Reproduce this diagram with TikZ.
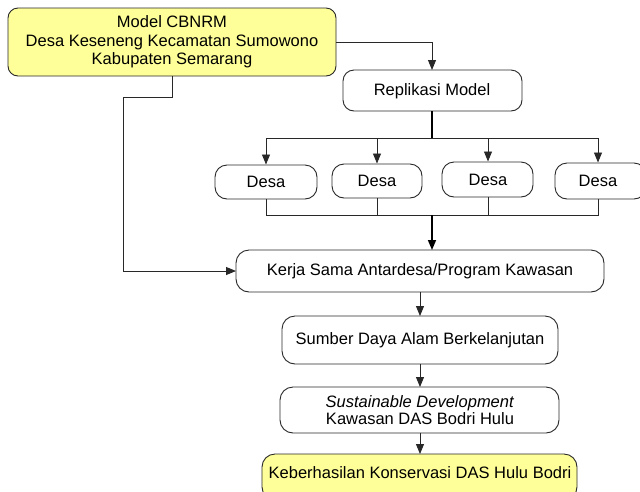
\documentclass[tikz,border=0pt]{standalone}
\usepackage{fontspec}
\setmainfont{Liberation Sans}
\usetikzlibrary{arrows.meta}
\definecolor{boxyellow}{RGB}{255,255,153}
\definecolor{linegray}{RGB}{40,40,40}
\begin{document}
\begin{tikzpicture}[x=1pt,y=-1pt,
  every node/.style={font=\fontsize{16.5}{18.5}\selectfont, text=black},
  rbox/.style={draw=linegray, line width=0.9pt, rounded corners=11pt, inner sep=0pt},
  conn/.style={draw=linegray, line width=0.9pt},
  thickconn/.style={draw=black, line width=1.6pt},
  arr/.style={-{Triangle[length=10pt,width=8pt]}}]
\useasboundingbox (0,0) rectangle (640,491);
\fill[white] (0,0) rectangle (640,491);

% boxes
\draw[rbox, fill=boxyellow, rounded corners=10pt] (8,8) rectangle (336,76);
\node[align=center, inner sep=0pt] (top) at (172,42) {Model CBNRM\\Desa Keseneng Kecamatan Sumowono\\Kabupaten Semarang};
\coordinate (topR) at (336,42);
\coordinate (topB) at (172,76);

\draw[rbox] (343,70) rectangle (522,111);
\node (rep) at (432,91) {Replikasi Model};
\coordinate (repT) at (432,70);
\coordinate (repB) at (432,111);

\draw[rbox, rounded corners=12pt] (215,165) rectangle (317,199);
\node (d1) at (266,182) {Desa};
\draw[rbox, rounded corners=12pt] (332,164) rectangle (422,198);
\node (d2) at (377,181) {Desa};
\draw[rbox, rounded corners=12pt] (442,162) rectangle (533,197);
\node (d3) at (488,180) {Desa};
\draw[rbox, rounded corners=12pt] (555,163) rectangle (646,199);
\node (d4) at (598,181) {Desa};

\draw[rbox, rounded corners=13pt] (236,250) rectangle (604,292);
\node (kerja) at (420,271) {Kerja Sama Antardesa/Program Kawasan};

\draw[rbox, rounded corners=13pt] (282,316) rectangle (558,364);
\node (sumber) at (420,340) {Sumber Daya Alam Berkelanjutan};

\draw[rbox, rounded corners=13pt] (280,387) rectangle (559,433);
\node[align=center, inner sep=0pt, font=\fontsize{16.5}{17.5}\selectfont] (sus) at (420,410) {\textit{Sustainable Development}\\Kawasan DAS Bodri Hulu};

\draw[rbox, fill=boxyellow, rounded corners=13pt] (262,454) rectangle (577,500);
\node (keb) at (420,473) {Keberhasilan Konservasi DAS Hulu Bodri};

% coordinates
\coordinate (split) at (432,138);
\coordinate (d1T) at (266,164.5);
\coordinate (d2T) at (377,163.5);
\coordinate (d3T) at (488,161.5);
\coordinate (d4T) at (598,162.5);
\coordinate (d1B) at (266,199);
\coordinate (d2B) at (377,198);
\coordinate (d3B) at (488,197);
\coordinate (d4B) at (598,199);
\coordinate (join) at (432,215);
\coordinate (kerjaT) at (432,250);
\coordinate (kerjaL) at (236,271);
\coordinate (kerjaB) at (420,292);
\coordinate (sumberT) at (420,316);
\coordinate (sumberB) at (420,364);
\coordinate (susT) at (420,387);
\coordinate (susB) at (420,433);
\coordinate (kebT) at (420,454);

% connectors
\draw[conn, arr] (topR) -| (repT);
\draw[thickconn] (repB) -- (split);
\draw[conn] (266,138) -- (598,138);
\draw[conn, arr] (266,138) -- (d1T);
\draw[conn, arr] (377,138) -- (d2T);
\draw[conn, arr] (488,138) -- (d3T);
\draw[conn, arr] (598,138) -- (d4T);
\draw[conn] (d1B) |- (join);
\draw[conn] (d4B) |- (join);
\draw[conn] (d2B) -- (377,215);
\draw[conn] (d3B) -- (488,215);
\draw[thickconn, arr] (join) -- (kerjaT);
\draw[conn, arr] (topB) -- (172,97) -- (123,97) |- (kerjaL);
\draw[conn, arr] (kerjaB) -- (sumberT);
\draw[conn, arr] (sumberB) -- (susT);
\draw[conn, arr] (susB) -- (kebT);
\end{tikzpicture}
\end{document}
